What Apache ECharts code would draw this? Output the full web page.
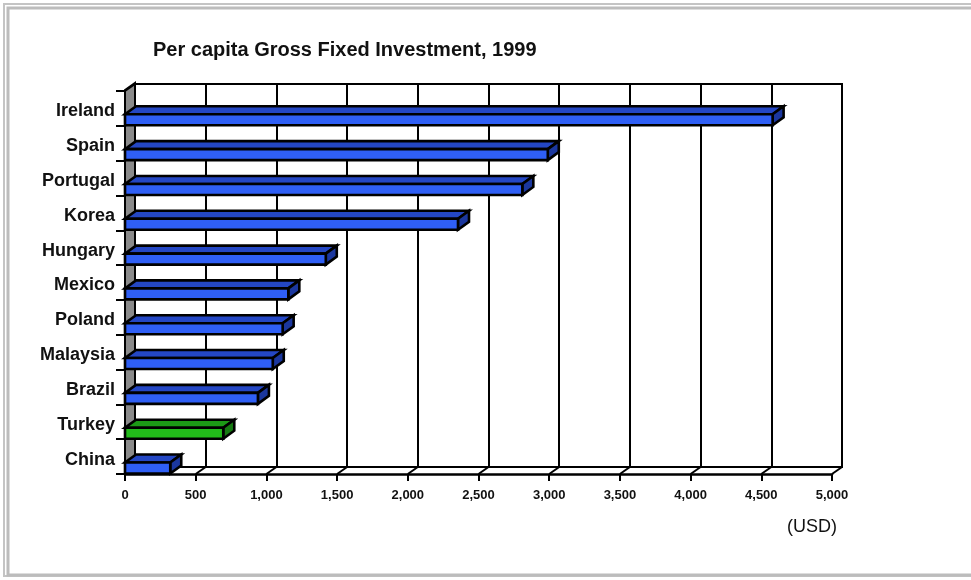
<!DOCTYPE html>
<html>
<head>
<meta charset="utf-8">
<style>
html,body{margin:0;padding:0;background:#fff;}
#chart{width:971px;height:580px;}
</style>
<script src="https://cdn.jsdelivr.net/npm/echarts@6/dist/echarts.min.js"></script>
</head>
<body>
<div id="chart"></div>
<script>
var titleText = 'Per capita Gross Fixed Investment, 1999';
var unitText = '(USD)';
var categories = ['Ireland','Spain','Portugal','Korea','Hungary','Mexico','Poland','Malaysia','Brazil','Turkey','China'];
var values = [4580, 2990, 2810, 2355, 1420, 1155, 1115, 1045, 940, 695, 320];
var highlighted = ['Turkey'];
var xMin = 0, xMax = 5000, xStep = 500;

var DX = 10, DY = -7;      // frame depth
var BDX = 11, BDY = -8;    // bar depth

var chart = echarts.init(document.getElementById('chart'), null, {renderer: 'canvas'});

var barData = values.map(function (v, i) { return [v, i, categories[i]]; });

function renderBar(params, api) {
  var v = api.value(0), idx = api.value(1);
  var name = categories[idx];
  var p0 = api.coord([0, idx]);
  var p1 = api.coord([v, idx]);
  var band = api.size([0, 1])[1];
  var yb = p0[1] + band / 2 - 0.5;
  var yt = yb - 11;
  var x0 = p0[0], x1 = p1[0];
  var green = highlighted.indexOf(name) >= 0;
  var front = green ? '#22bb1a' : '#2f5ff5';
  var top = green ? '#1c9a16' : '#2447c4';
  var cap = green ? '#167a12' : '#1b379e';
  var st = {stroke: '#000', lineWidth: 2.6, lineJoin: 'miter'};
  return {
    type: 'group',
    children: [
      {type: 'polygon', shape: {points: [[x0, yt], [x1, yt], [x1 + BDX, yt + BDY], [x0 + BDX, yt + BDY]]},
       style: Object.assign({fill: top}, st)},
      {type: 'polygon', shape: {points: [[x1, yt], [x1 + BDX, yt + BDY], [x1 + BDX, yb + BDY], [x1, yb]]},
       style: Object.assign({fill: cap}, st)},
      {type: 'rect', shape: {x: x0, y: yt, width: x1 - x0, height: yb - yt},
       style: Object.assign({fill: front}, st)}
    ]
  };
}

function renderFrame(params, api) {
  var cs = params.coordSys;
  var top = cs.y, bottom = cs.y + cs.height;
  var x0 = api.coord([xMin, 0])[0];
  var children = [];
  children.push({type: 'polygon',
    shape: {points: [[x0, top - 1], [x0 + DX, top - 1 + DY], [x0 + DX, bottom + DY], [x0, bottom]]},
    style: {fill: '#8a8a8a', stroke: '#000', lineWidth: 2}});
  var n = categories.length;
  for (var i = 0; i <= n; i++) {
    var y = top + cs.height * i / n;
    children.push({type: 'line', shape: {x1: x0, y1: y, x2: x0 + DX, y2: y + DY},
      style: {stroke: '#000', lineWidth: 2}});
  }
  for (var v = xMin; v <= xMax; v += xStep) {
    var x = api.coord([v, 0])[0];
    children.push({type: 'line', shape: {x1: x, y1: bottom, x2: x + DX, y2: bottom + DY},
      style: {stroke: '#000', lineWidth: 2}});
  }
  return {type: 'group', children: children};
}

var option = {
  animation: false,
  backgroundColor: '#fff',
  title: {
    text: titleText, left: 148, top: 35,
    textStyle: {fontFamily: 'Liberation Sans', fontWeight: 'bold', fontSize: 20, color: '#111'}
  },
  graphic: [
    {type: 'rect', shape: {x: 4, y: 4, width: 1000, height: 572}, style: {fill: 'none', stroke: '#c4c4c4', lineWidth: 2}, z: 0},
    {type: 'rect', shape: {x: 8, y: 8, width: 1000, height: 567}, style: {fill: 'none', stroke: '#bcbcbc', lineWidth: 3}, z: 0},
    {type: 'text', right: 134, top: 518, style: {text: unitText, fontFamily: 'Liberation Sans', fontSize: 18, fill: '#111'}}
  ],
  grid: [
    {left: 125, right: 139, top: 91, bottom: 106, containLabel: false},
    {left: 125 + DX, right: 139 - DX, top: 91 + DY, bottom: 106 - DY, show: true, borderColor: '#000', borderWidth: 2, backgroundColor: '#fff'}
  ],
  xAxis: [
    {gridIndex: 0, type: 'value', min: xMin, max: xMax, interval: xStep,
     axisLine: {show: true, lineStyle: {color: '#000', width: 2.5}},
     axisTick: {show: true, length: 7, lineStyle: {color: '#000', width: 2}},
     splitLine: {show: false},
     axisLabel: {margin: 15, fontFamily: 'Liberation Sans', fontWeight: 'bold', fontSize: 13, color: '#111',
       formatter: function (v) { return v.toLocaleString('en-US'); }}},
    {gridIndex: 1, type: 'value', min: xMin, max: xMax, interval: xStep,
     axisLine: {show: false}, axisTick: {show: false}, axisLabel: {show: false},
     splitLine: {show: true, lineStyle: {color: '#000', width: 2}}}
  ],
  yAxis: [
    {gridIndex: 0, type: 'category', data: categories, inverse: true,
     axisLine: {show: true, lineStyle: {color: '#000', width: 2}},
     axisTick: {show: true, length: 9, lineStyle: {color: '#000', width: 2}},
     splitLine: {show: false},
     axisLabel: {margin: 10, verticalAlign: 'top', lineHeight: 6, fontFamily: 'Liberation Sans', fontWeight: 'bold', fontSize: 18, color: '#111'}},
    {gridIndex: 1, type: 'category', data: categories, inverse: true, show: false}
  ],
  series: [
    {type: 'custom', name: 'frame', xAxisIndex: 0, yAxisIndex: 0, z: 3, silent: true,
     renderItem: renderFrame, data: [[0, 0]], clip: false},
    {type: 'custom', name: 'bars', xAxisIndex: 0, yAxisIndex: 0, z: 4,
     renderItem: renderBar, encode: {x: 0, y: 1}, data: barData, clip: false}
  ]
};
chart.setOption(option);
</script>
</body>
</html>
